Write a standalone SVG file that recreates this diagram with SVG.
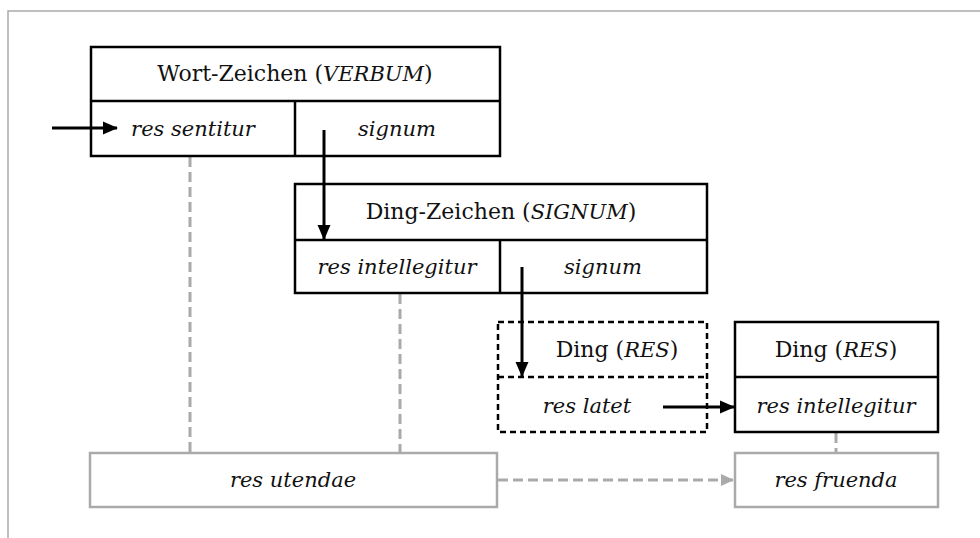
<svg xmlns="http://www.w3.org/2000/svg" width="980" height="538" viewBox="0 0 980 538">
  <defs>
    <marker id="ah" markerWidth="15" markerHeight="14" refX="14" refY="7" orient="auto" markerUnits="userSpaceOnUse" viewBox="0 0 15 14">
      <path d="M0,0.5 L15,7 L0,13.5 Z" fill="#000"/>
    </marker>
    <marker id="ahg" markerWidth="13" markerHeight="13" refX="12" refY="6.5" orient="auto" markerUnits="userSpaceOnUse" viewBox="0 0 13 13">
      <path d="M0,0.5 L13,6.5 L0,12.5 Z" fill="#aaa"/>
    </marker>
    <style>
      .frame { fill: none; stroke: #aaa; stroke-width: 1.5; }
      .box { fill: #fff; stroke: #000; stroke-width: 2.5; }
      .dbox { fill: #fff; stroke: #000; stroke-width: 2.5; stroke-dasharray: 6 4; }
      .gbox { fill: #fff; stroke: #aaa; stroke-width: 2.5; }
      .sep { stroke: #000; stroke-width: 2.5; fill: none; }
      .dsep { stroke: #000; stroke-width: 2.5; stroke-dasharray: 6 4; fill: none; }
      .arr { stroke: #000; stroke-width: 3; fill: none; }
      .garr { stroke: #aaa; stroke-width: 3; fill: none; stroke-dasharray: 10 5; }
      text { font-family: "DejaVu Serif", "Liberation Serif", serif; font-size: 22px; fill: #111; text-anchor: middle; }
      .it { font-style: italic; font-size: 21px; }
    </style>
  </defs>

  <rect class="frame" x="8" y="11" width="1000" height="600"/>

  <!-- gray relations -->
  <g id="connectors-gray">
    <line class="garr" x1="190" y1="157" x2="190" y2="453"/>
    <line class="garr" x1="400" y1="294" x2="400" y2="453"/>
    <line class="garr" x1="836" y1="433" x2="836" y2="453"/>
    <line class="garr" x1="498" y1="480" x2="733" y2="480" marker-end="url(#ahg)"/>
  </g>

  <g id="verbum">
    <rect class="box" x="91" y="47" width="409" height="109"/>
    <line class="sep" x1="91" y1="101" x2="500" y2="101"/>
    <line class="sep" x1="295" y1="101" x2="295" y2="156"/>
    <text x="295" y="81">Wort-Zeichen (<tspan class="it" font-size="22">VERBUM</tspan>)</text>
    <text class="it" x="193" y="136">res sentitur</text>
    <text class="it" x="397" y="136">signum</text>
  </g>

  <g id="signum">
    <rect class="box" x="295" y="184" width="412" height="109"/>
    <line class="sep" x1="295" y1="240" x2="707" y2="240"/>
    <line class="sep" x1="500" y1="240" x2="500" y2="293"/>
    <text x="501" y="219">Ding-Zeichen (<tspan class="it" font-size="22">SIGNUM</tspan>)</text>
    <text class="it" x="397" y="274">res intellegitur</text>
    <text class="it" x="603" y="274">signum</text>
  </g>

  <g id="res-latet">
    <rect class="dbox" x="498" y="322" width="209" height="110"/>
    <line class="dsep" x1="498" y1="377" x2="707" y2="377"/>
    <text x="617" y="357">Ding (<tspan class="it" font-size="22">RES</tspan>)</text>
    <text class="it" x="587" y="413">res latet</text>
  </g>

  <g id="res-intellegitur">
    <rect class="box" x="735" y="322" width="203" height="110"/>
    <line class="sep" x1="735" y1="377" x2="938" y2="377"/>
    <text x="836" y="357">Ding (<tspan class="it" font-size="22">RES</tspan>)</text>
    <text class="it" x="836" y="413">res intellegitur</text>
  </g>

  <g id="res-utendae">
    <rect class="gbox" x="90" y="453" width="407" height="54"/>
    <text class="it" x="293" y="487">res utendae</text>
  </g>

  <g id="res-fruenda">
    <rect class="gbox" x="735" y="453" width="203" height="54"/>
    <text class="it" x="836" y="487">res fruenda</text>
  </g>

  <!-- black arrows -->
  <g id="connectors">
    <line class="arr" x1="52" y1="128" x2="117" y2="128" marker-end="url(#ah)"/>
    <line class="arr" x1="324" y1="130" x2="324" y2="239" marker-end="url(#ah)"/>
    <line class="arr" x1="522" y1="267" x2="522" y2="376" marker-end="url(#ah)"/>
    <line class="arr" x1="663" y1="407" x2="734" y2="407" marker-end="url(#ah)"/>
  </g>
</svg>
